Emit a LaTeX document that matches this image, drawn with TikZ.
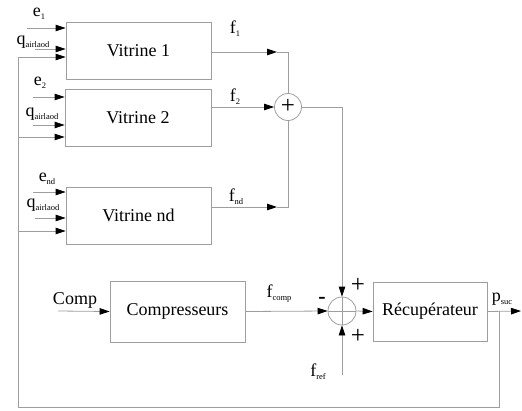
\documentclass[tikz,border=0pt]{standalone}
\usepackage{fontspec}
\setmainfont{Liberation Serif}
\usetikzlibrary{arrows.meta}
\newcommand\lbl[2]{#1\raisebox{-0.35ex}{\fontsize{8.5}{9}\selectfont #2}}
\begin{document}
\begin{tikzpicture}[x=1pt,y=-1pt,
  ln/.style={draw=black!38, line width=0.8pt},
  arr/.style={ln, -{Triangle[length=10pt,width=6.5pt,color=black]}},
  blk/.style={draw=black!38, line width=0.8pt, font=\fontsize{18}{20}\selectfont, inner sep=0pt},
  sumc/.style={draw=black!38, line width=0.8pt, circle, minimum size=#1, inner sep=0pt},
  txt/.style={font=\fontsize{18}{20}\selectfont, inner sep=0pt},
  sgn/.style={font=\fontsize{25}{25}\selectfont, inner sep=0pt}]
\useasboundingbox (0,0) rectangle (522,410);
% blocks
\node[blk, minimum width=145pt, minimum height=57pt] (v1) at (138.5,50.5) {Vitrine 1};
\node[blk, minimum width=146pt, minimum height=57pt] (v2) at (138,117.5) {Vitrine 2};
\node[blk, minimum width=145pt, minimum height=57pt] (vn) at (138.5,215.5) {Vitrine nd};
\node[blk, minimum width=135pt, minimum height=61pt] (cp) at (177.5,311.5) {Compresseurs};
\node[blk, minimum width=114pt, minimum height=59pt] (rc) at (430,311.5) {Récupérateur};
\node[sumc=27pt] (s1) at (288,107) {};
\node[sgn] (s1p) at (288,106) {+};
\node[sumc=28pt] (s2) at (342,311) {};
\draw[ln] (s2.north) -- (s2.south) (s2.west) -- (s2.east);
% labels
\node[txt] (le1) at (39,14) {\lbl{e}{1}};
\node[txt] (lq1) at (33,42) {\lbl{q}{airlaod}};
\node[txt] (le2) at (40,83) {\lbl{e}{2}};
\node[txt] (lq2) at (42,114) {\lbl{q}{airlaod}};
\node[txt] (len) at (47,179) {\lbl{e}{nd}};
\node[txt] (lqn) at (43,205) {\lbl{q}{airlaod}};
\node[txt] (lf1) at (235,29) {\lbl{f}{1}};
\node[txt] (lf2) at (235,97) {\lbl{f}{2}};
\node[txt] (lfn) at (236,197) {\lbl{f}{nd}};
\node[txt] (lcomp) at (75,300) {Comp};
\node[txt] (lfc) at (279,294) {\lbl{f}{comp}};
\node[txt] (lfr) at (318,372) {\lbl{f}{ref}};
\node[txt] (lps) at (502,299) {\lbl{p}{suc}};
\node[sgn] (pt) at (358,285) {+};
\node[sgn] (pb) at (358,336) {+};
\node[txt, font=\fontsize{22}{22}\selectfont\bfseries] (mn) at (322,300) {-};
% coordinates
\coordinate (a1) at (27,28);
\coordinate (b1) at (35,49);
\coordinate (a2) at (33,97);
\coordinate (b2) at (33,125);
\coordinate (an) at (33,192);
\coordinate (bn) at (35,218);
\coordinate (c1) at (277,52);
\coordinate (k1) at (288,52);
\coordinate (cn) at (277,207);
\coordinate (kn) at (288,207);
\coordinate (k2) at (342,107);
\coordinate (ci) at (58,311);
\coordinate (fr) at (342,375);
\coordinate (out) at (521,311);
\coordinate (br) at (499,311);
\coordinate (fb1) at (499,407);
\coordinate (fb2) at (18,407);
\coordinate (fb3) at (18,57);
\coordinate (fbv2) at (18,137);
\coordinate (fbvn) at (18,231);
% inputs
\draw[arr] (a1) -- (a1 -| v1.west);
\draw[arr] (b1) -- (b1 -| v1.west);
\draw[arr] (a2) -- (a2 -| v2.west);
\draw[arr] (b2) -- (b2 -| v2.west);
\draw[arr] (an) -- (an -| vn.west);
\draw[arr] (bn) -- (bn -| vn.west);
% outputs to sum 1
\draw[arr] (c1 -| v1.east) -- (c1);
\draw[ln] (c1) -- (k1) -- (s1.north);
\draw[arr] (v2.east |- s1) -- (s1.west);
\draw[arr] (cn -| vn.east) -- (cn);
\draw[ln] (cn) -- (kn) -- (s1.south);
\draw[arr] (s1.east) -- (k2) -- (s2.north);
% lower part
\draw[arr] (ci) -- (cp.west);
\draw[arr] (cp.east) -- (s2.west);
\draw[arr] (fr) -- (s2.south);
\draw[arr] (s2.east) -- (rc.west);
\draw[arr] (rc.east) -- (out);
% feedback
\draw[ln] (br) -- (fb1) -- (fb2) -- (fb3);
\draw[arr] (fb3) -- (fb3 -| v1.west);
\draw[arr] (fbv2) -- (fbv2 -| v2.west);
\draw[arr] (fbvn) -- (fbvn -| vn.west);
\end{tikzpicture}
\end{document}
